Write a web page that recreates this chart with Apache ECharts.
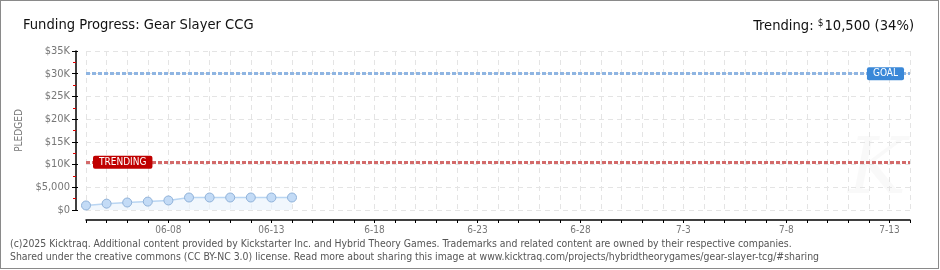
<!DOCTYPE html>
<html><head><meta charset="utf-8">
<script src="https://cdn.jsdelivr.net/npm/echarts@6/dist/echarts.min.js"></script>
<style>
html,body{margin:0;padding:0;background:#fff;}
#c{position:absolute;left:0;top:0;width:940px;height:270px;}
#b{position:absolute;left:0;top:0;width:937px;height:267px;border:1px solid #8a8a8a;pointer-events:none;}
</style></head>
<body><div id="c"></div><div id="b"></div>
<script>
// Days shown on the x axis (06-04 .. 07-14), as labelled in the reference
const categories = ['06-04','06-05','06-06','06-07','06-08','06-09','06-10','06-11','06-12','06-13',
  '06-14','06-15','06-16','06-17','6-18','6-19','6-20','6-21','6-22','6-23',
  '6-24','6-25','6-26','6-27','6-28','6-29','6-30','7-1','7-2','7-3',
  '7-4','7-5','7-6','7-7','7-8','7-9','7-10','7-11','7-12','7-13','7-14'];
const labelledTicks = ['06-08','06-13','6-18','6-23','6-28','7-3','7-8','7-13'];
const pledged = [1000, 1400, 1650, 1850, 2100, 2750, 2750, 2750, 2750, 2750, 2750];
const goal = 30000;
const trending = 10500;
const yTicks = {0:'$0',5000:'$5,000',10000:'$10K',15000:'$15K',20000:'$20K',25000:'$25K',30000:'$30K',35000:'$35K'};

const font = '"DejaVu Sans Condensed","DejaVu Sans",sans-serif';
const chart = echarts.init(document.getElementById('c'));
chart.setOption({
  animation:false,
  grid:{left:86, right:30, top:51, bottom:60},
  title:[
    {text:'Funding Progress: Gear Slayer CCG', left:18, top:13,
     textStyle:{fontFamily:font, fontSize:14.6, fontWeight:'normal', color:'#111'}},
    {text:'{a|Trending: }{s|$}{a|10,500 (34%)}', right:21, top:13,
     textStyle:{fontWeight:'normal', rich:{a:{fontFamily:font, fontSize:14.6, fontWeight:'normal', color:'#111'}, s:{fontFamily:font, fontSize:10, fontWeight:'normal', color:'#111', verticalAlign:'top', padding:[0,1,6,0]}}}}
  ],
  graphic:[
    {type:'text', left:10, top:239, style:{text:'(c)2025 Kicktraq. Additional content provided by Kickstarter Inc. and Hybrid Theory Games. Trademarks and related content are owned by their respective companies.', font:'10.4px "DejaVu Sans Condensed","DejaVu Sans",sans-serif', fill:'#555'}},
    {type:'text', left:10, top:252, style:{text:'Shared under the creative commons (CC BY-NC 3.0) license. Read more about sharing this image at www.kicktraq.com/projects/hybridtheorygames/gear-slayer-tcg/#sharing', font:'10.4px "DejaVu Sans Condensed","DejaVu Sans",sans-serif', fill:'#555'}},
    {type:'text', left:848, top:134, silent:true, style:{text:'K', font:'italic 78px "DejaVu Serif",serif', fill:'rgba(0,0,0,0.025)'}}
  ],
  xAxis:{
    type:'category', data:categories, boundaryGap:false, offset:10,
    axisLine:{onZero:false, lineStyle:{color:'#000', width:1.5}},
    axisTick:{interval:0, length:3, lineStyle:{color:'#000'}},
    axisLabel:{interval:function(i,v){return labelledTicks.indexOf(v)>=0;}, color:'#777', fontFamily:font, fontSize:10, margin:5},
    splitLine:{show:true, interval:0, lineStyle:{color:'#e4e4e4', type:[5,4]}}
  },
  yAxis:[{
    type:'value', min:0, max:35000, interval:5000, offset:10,
    name:'PLEDGED', nameLocation:'middle', nameGap:47, nameRotate:90,
    nameTextStyle:{color:'#777', fontFamily:font, fontSize:10},
    axisLine:{show:true, onZero:false, lineStyle:{color:'#000', width:1.5}},
    axisTick:{show:true, length:4, lineStyle:{color:'#000'}},
    minorTick:{show:true, splitNumber:2, length:3, lineStyle:{color:'#e00000'}},
    axisLabel:{color:'#777', fontFamily:font, fontSize:11, margin:6, formatter:function(v){return yTicks[v];}},
    splitLine:{show:true, lineStyle:{color:'#e4e4e4', type:[5,4]}}
  },{
    type:'value', min:0, max:35000, interval:5000, offset:10, position:'left',
    axisLine:{show:false}, axisLabel:{show:false}, splitLine:{show:false},
    axisTick:{show:true, inside:true, length:2, lineStyle:{color:'#000'}}
  }],
  series:[{
    type:'line', data:pledged, symbol:'circle', symbolSize:9,
    lineStyle:{color:'#b9d5f2', width:1.5},
    itemStyle:{color:'#c3dbf6', borderColor:'#8fb1d8', borderWidth:1},
    areaStyle:{color:'#ebf3fc'},
    markLine:{symbol:'none', silent:true, animation:false,
      data:[
        {yAxis:goal, lineStyle:{color:'#8fb5e2', width:3, type:[4,2]},
         label:{show:true, position:'insideEnd', distance:6, formatter:'GOAL', color:'#fff', fontFamily:font, fontSize:10,
           backgroundColor:'#3a88d8', padding:[2,6,1,6], borderRadius:2}},
        {yAxis:trending, lineStyle:{color:'#d36a6a', width:3, type:[4,2]},
         label:{show:true, position:'insideStart', distance:7, formatter:'TRENDING', color:'#fff', fontFamily:font, fontSize:10,
           backgroundColor:'#c00000', padding:[2,6,1,6], borderRadius:2}}
      ]}
  }]
});
</script></body></html>
